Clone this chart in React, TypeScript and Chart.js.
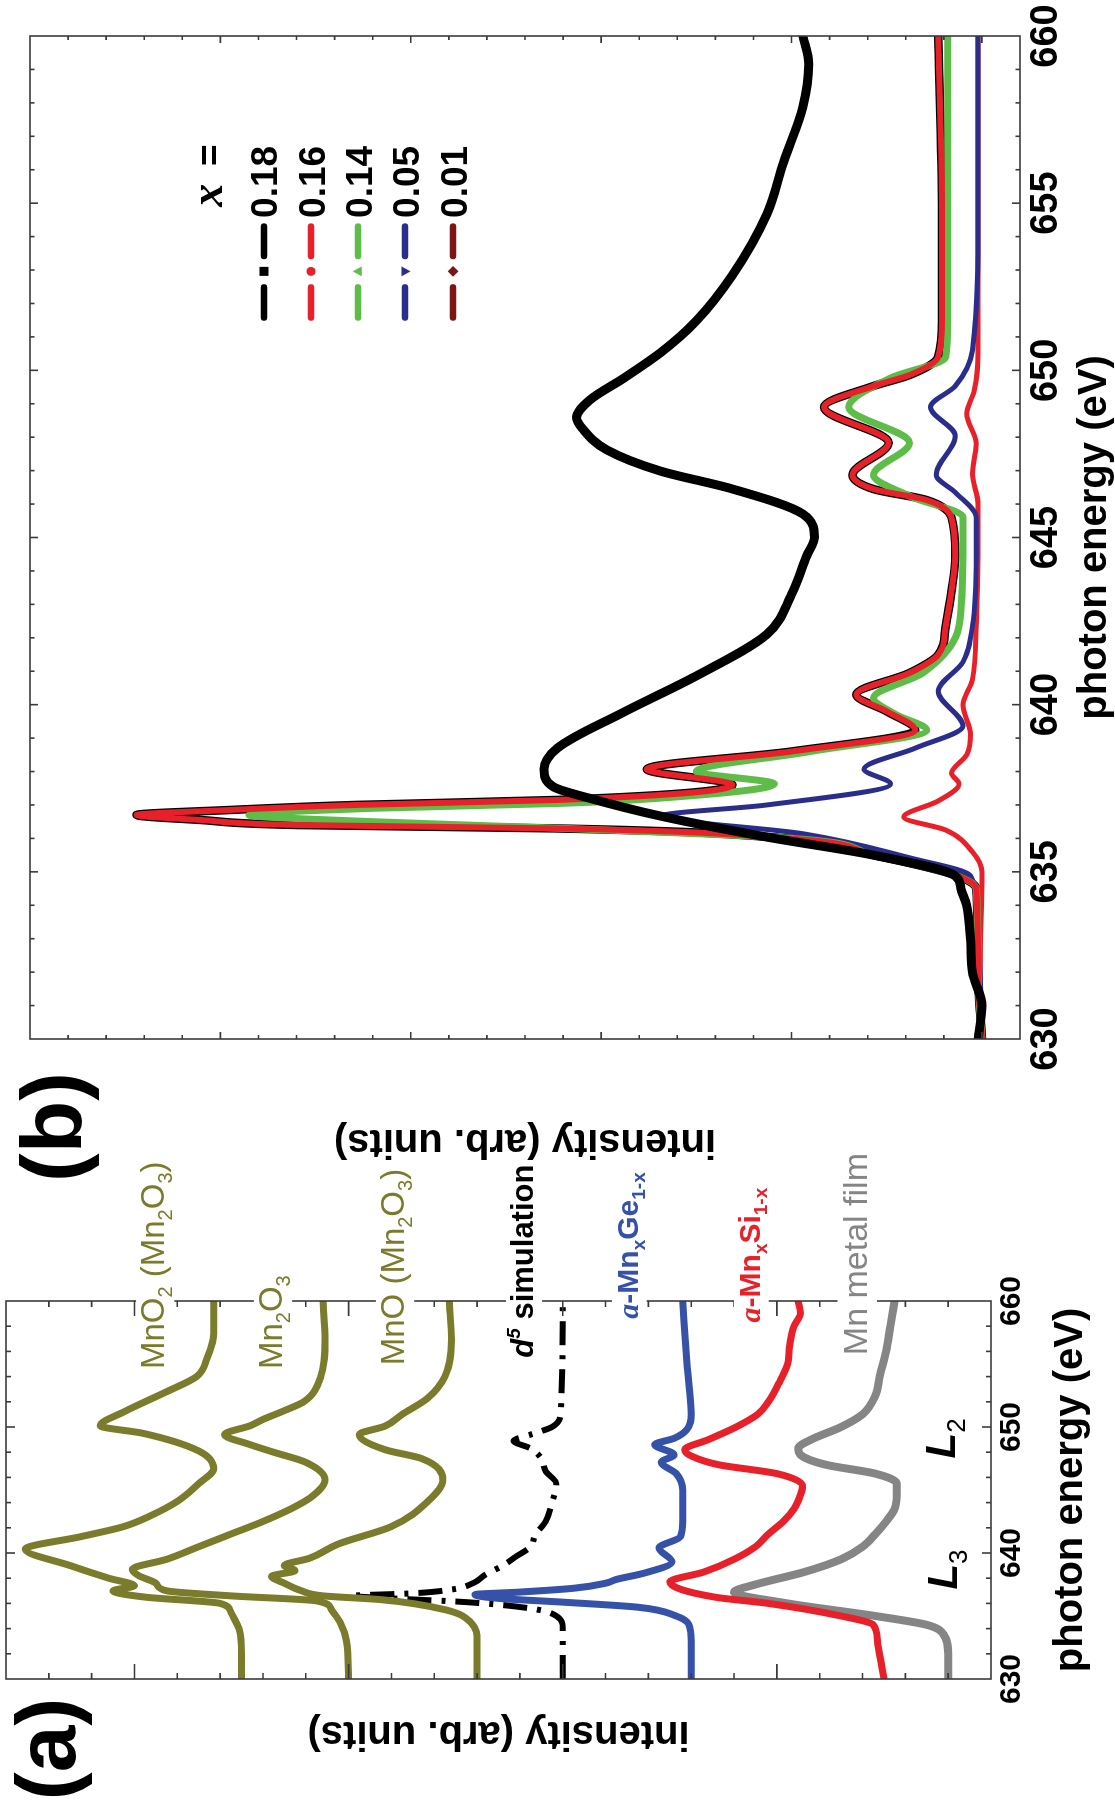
import React, { useEffect, useRef } from 'react';
import { Chart, registerables } from 'chart.js';
Chart.register(...registerables);

const FONT = "'Liberation Sans', Arial, Helvetica, sans-serif";
const SERIF = "'Liberation Serif', 'Times New Roman', serif";
Chart.defaults.font.family = FONT;

// ---------- axes ----------
const A_X_MIN = 630, A_X_MAX = 660, A_X_STEP = 2;
const A_X_TICK_LABELS = [630, 640, 650, 660];
const A_Y_MIN = 0, A_Y_MAX = 4.6, A_Y_STEP = 0.2;
const B_X_MIN = 630, B_X_MAX = 660, B_X_STEP = 1;
const B_X_TICK_LABELS = [630, 635, 640, 645, 650, 655, 660];
const B_Y_MIN = -0.2, B_Y_MAX = 5, B_Y_STEP = 0.2;

// ---------- panel (a) data: photon energy (eV) / intensity (arb. units, offset) ----------
const A_MNO2_E = [630, 632, 633.9, 635.3, 636.0, 636.5, 637.0, 637.4, 638.0, 639.0, 640.3, 641.3, 642.1, 643.0, 644.1, 645.5, 646.7, 648.1, 649.5, 650.1, 651.2, 652.8, 654.0, 655.5, 657.4, 660];
const A_MNO2_I = [3.50, 3.50, 3.51, 3.55, 3.60, 3.95, 4.10, 4.00, 4.12, 4.30, 4.51, 4.25, 4.05, 3.92, 3.80, 3.70, 3.63, 3.70, 3.96, 4.16, 4.05, 3.85, 3.71, 3.66, 3.63, 3.63];
const A_MN2O3_E = [630, 633, 634.5, 635.5, 636.2, 636.6, 637.0, 637.6, 638.2, 638.7, 639.5, 640.5, 641.5, 642.5, 643.5, 644.5, 645.8, 647.2, 648.0, 648.6, 649.4, 650.1, 650.6, 651.3, 652.0, 654.0, 656.9, 660];
const A_MN2O3_I = [3.00, 3.01, 3.04, 3.08, 3.15, 3.55, 3.85, 3.90, 3.98, 4.01, 3.85, 3.70, 3.55, 3.40, 3.27, 3.17, 3.11, 3.20, 3.35, 3.46, 3.58, 3.46, 3.40, 3.30, 3.21, 3.13, 3.11, 3.12];
const A_MNO_E = [630, 633, 634.5, 635.5, 636.3, 636.6, 637.0, 637.6, 638.15, 638.6, 639.0, 639.6, 640.7, 642.1, 644.1, 645.8, 647.5, 648.2, 649.4, 650.07, 651.0, 652.3, 654.0, 656.9, 660];
const A_MNO_I = [2.40, 2.40, 2.43, 2.55, 2.85, 3.12, 3.22, 3.30, 3.36, 3.25, 3.30, 3.18, 3.05, 2.80, 2.63, 2.56, 2.66, 2.83, 2.95, 2.83, 2.75, 2.63, 2.55, 2.52, 2.53];
const A_D5_E = [630, 634, 635, 635.6, 636.1, 636.4, 636.6, 636.8, 637.1, 637.6, 638.3, 639.0, 639.7, 640.5, 641.4, 642.5, 644, 645.5, 646.5, 647.5, 648.3, 648.9, 649.4, 650, 651, 660];
const A_D5_I = [2.0, 2.0, 2.03, 2.15, 2.45, 2.8, 2.98, 2.7, 2.52, 2.42, 2.36, 2.28, 2.22, 2.15, 2.13, 2.08, 2.05, 2.03, 2.08, 2.10, 2.15, 2.23, 2.15, 2.05, 2.01, 2.0];
const A_GE_E = [630, 633, 634.3, 635.0, 635.7, 636.1, 636.4, 636.7, 636.9, 637.2, 637.6, 637.9, 638.4, 639.3, 640.4, 641.3, 642.5, 645, 646.3, 647.2, 647.8, 648.6, 649.1, 649.8, 651, 655, 660];
const A_GE_I = [1.40, 1.40, 1.41, 1.47, 1.65, 2.0, 2.3, 2.41, 2.2, 1.95, 1.80, 1.75, 1.62, 1.49, 1.55, 1.45, 1.44, 1.44, 1.47, 1.54, 1.48, 1.57, 1.48, 1.42, 1.40, 1.42, 1.44];
const A_SI_E = [630, 631, 633, 634.3, 635, 636, 636.5, 637.7, 638.5, 639.5, 640.5, 641.5, 642.5, 643.5, 644.6, 645.3, 646.3, 647, 647.7, 648.2, 649, 650, 651, 652, 653.5, 655, 656.5, 658, 659, 660];
const A_SI_I = [0.50, 0.51, 0.53, 0.55, 0.70, 1.04, 1.29, 1.50, 1.34, 1.20, 1.10, 1.04, 0.97, 0.92, 0.89, 0.88, 1.00, 1.27, 1.40, 1.43, 1.32, 1.19, 1.09, 1.04, 0.99, 0.95, 0.94, 0.92, 0.89, 0.90];
const A_MN_E = [630, 632, 633.5, 634.3, 635, 636, 636.9, 637.5, 638.5, 639.5, 640.5, 641.5, 642.5, 643.5, 644.6, 645.5, 646.3, 647, 647.8, 648.3, 649, 650, 651, 652.5, 654, 656, 658, 660];
const A_MN_I = [0.20, 0.20, 0.22, 0.30, 0.54, 0.95, 1.20, 1.10, 0.87, 0.70, 0.60, 0.54, 0.49, 0.45, 0.44, 0.44, 0.54, 0.77, 0.89, 0.90, 0.84, 0.70, 0.60, 0.54, 0.52, 0.49, 0.47, 0.45];

// ---------- panel (b) data: a-MnxGe1-x, x = ... ----------
const B_X018_E = [630, 631, 632, 633, 634, 634.5, 634.88, 635.5, 636.04, 636.67, 637.2, 637.54, 638.07, 638.7, 639.78, 640.86, 642.1, 643.3, 644.45, 645.0, 645.7, 646.45, 646.99, 647.62, 648.27, 648.58, 649.11, 649.77, 650.52, 651.48, 652.85, 654.67, 656.26, 657.88, 659.16, 660];
const B_X018_I = [0.02, 0.0, 0.05, 0.06, 0.08, 0.11, 0.14, 0.57, 1.13, 1.69, 2.06, 2.25, 2.30, 2.23, 1.88, 1.50, 1.13, 1.0, 0.92, 0.88, 0.94, 1.31, 1.69, 1.97, 2.10, 2.13, 2.06, 1.88, 1.69, 1.50, 1.31, 1.13, 1.04, 0.94, 0.91, 0.94];
const B_X016_E = [630, 632, 634.5, 634.9, 635.5, 636.0, 636.3, 636.4, 636.55, 636.7, 636.85, 637.0, 637.15, 637.6, 638.07, 638.6, 639.24, 639.8, 640.3, 640.95, 641.49, 642.35, 643.4, 644.45, 645.6, 646.12, 646.45, 646.87, 647.83, 648.9, 649.53, 649.86, 650.4, 651.48, 654.67, 660];
const B_X016_I = [0.0, 0.02, 0.03, 0.14, 0.57, 1.02, 2.25, 3.59, 4.1, 4.44, 3.95, 3.29, 2.23, 1.31, 1.76, 1.0, 0.35, 0.5, 0.66, 0.38, 0.23, 0.19, 0.16, 0.14, 0.16, 0.29, 0.57, 0.68, 0.49, 0.83, 0.57, 0.38, 0.23, 0.21, 0.21, 0.23];
const B_X014_E = [630, 632, 634.5, 634.9, 635.5, 636.0, 636.3, 636.5, 636.7, 636.9, 637.05, 637.2, 637.63, 638.0, 638.6, 639.24, 639.7, 640.2, 640.95, 642.35, 644.45, 645.6, 646.24, 646.87, 647.83, 648.9, 649.77, 650.4, 651.48, 660];
const B_X014_I = [0.0, 0.02, 0.03, 0.14, 0.57, 1.0, 2.2, 3.2, 3.85, 3.2, 2.2, 1.7, 1.09, 1.50, 0.9, 0.29, 0.45, 0.57, 0.31, 0.12, 0.10, 0.10, 0.38, 0.57, 0.38, 0.70, 0.48, 0.19, 0.18, 0.18];
const B_X005_E = [630, 632, 634.0, 634.88, 635.42, 636.14, 636.67, 637.0, 637.63, 638.07, 638.7, 639.36, 640.4, 641.27, 642.35, 644.5, 645.6, 646.35, 646.87, 648.04, 648.9, 649.53, 650.6, 655, 660];
const B_X005_I = [0.0, 0.01, 0.03, 0.06, 0.38, 0.94, 1.68, 1.13, 0.48, 0.62, 0.35, 0.10, 0.23, 0.10, 0.05, 0.03, 0.03, 0.14, 0.24, 0.14, 0.27, 0.14, 0.05, 0.02, 0.02];
const B_X001_E = [630, 632, 635.0, 635.6, 636.25, 636.64, 637.12, 637.63, 637.95, 638.5, 639.12, 639.99, 640.74, 642.35, 646.0, 646.9, 647.8, 648.7, 649.4, 650.5, 660];
const B_X001_I = [0.0, 0.01, 0.0, 0.05, 0.19, 0.41, 0.23, 0.12, 0.16, 0.08, 0.06, 0.10, 0.05, 0.03, 0.02, 0.05, 0.03, 0.08, 0.04, 0.02, 0.02];

// ---------- styles ----------
const OLIVE = '#7b7b2c';
const A_BLUE = '#3552a8';
const A_RED = '#e8202a';
const A_GRAY = '#858585';
const B_RED = '#e8202a';
const B_GREEN = '#5ebd48';
const B_BLUE = '#2a2d8c';
const B_MAROON = '#7d1416';

const A_SERIES = [
  { label: 'MnO2 (Mn2O3)', e: A_MNO2_E, i: A_MNO2_I, color: OLIVE, width: 7 },
  { label: 'Mn2O3', e: A_MN2O3_E, i: A_MN2O3_I, color: OLIVE, width: 7 },
  { label: 'MnO (Mn2O3)', e: A_MNO_E, i: A_MNO_I, color: OLIVE, width: 7 },
  { label: 'd5 simulation', e: A_D5_E, i: A_D5_I, color: '#000000', width: 6, dash: [24, 10, 4, 10] },
  { label: 'a-MnxGe1-x', e: A_GE_E, i: A_GE_I, color: A_BLUE, width: 7 },
  { label: 'a-MnxSi1-x', e: A_SI_E, i: A_SI_I, color: A_RED, width: 7 },
  { label: 'Mn metal film', e: A_MN_E, i: A_MN_I, color: A_GRAY, width: 8 },
];

const B_SERIES = [
  { label: '0.18', e: B_X018_E, i: B_X018_I, color: '#000000', width: 9, marker: 'rect' },
  { label: '0.16', e: B_X016_E, i: B_X016_I, color: B_RED, width: 6, marker: 'circle' },
  { label: '0.14', e: B_X014_E, i: B_X014_I, color: B_GREEN, width: 7, marker: 'triUp' },
  { label: '0.05', e: B_X005_E, i: B_X005_I, color: B_BLUE, width: 5, marker: 'triDown' },
  { label: '0.01', e: B_X001_E, i: B_X001_I, color: B_RED, width: 5, marker: 'diamond', legendColor: B_MAROON },
];

// annotation placement (data coordinates of panel a)
const A_LABELS = [
  { e: 654.6, v: 3.86, color: OLIVE, size: 33, weight: 'normal', bg: true, segs: [{ t: 'MnO' }, { t: '2', s: 'sub' }, { t: ' (Mn' }, { t: '2', s: 'sub' }, { t: 'O' }, { t: '3', s: 'sub' }, { t: ')' }] },
  { e: 654.6, v: 3.31, color: OLIVE, size: 33, weight: 'normal', bg: true, segs: [{ t: 'Mn' }, { t: '2', s: 'sub' }, { t: 'O' }, { t: '3', s: 'sub' }] },
  { e: 654.9, v: 2.74, color: OLIVE, size: 33, weight: 'normal', bg: true, segs: [{ t: 'MnO (Mn' }, { t: '2', s: 'sub' }, { t: 'O' }, { t: '3', s: 'sub' }, { t: ')' }] },
  { e: 655.5, v: 2.14, color: '#000000', size: 31, weight: 'bold', bg: true, segs: [{ t: 'd', it: true }, { t: '5', s: 'sup', it: true }, { t: ' simulation' }] },
  { e: 658.6, v: 1.65, color: A_BLUE, size: 30, weight: 'bold', bg: true, segs: [{ t: 'a', it: true, serif: true }, { t: '-Mn' }, { t: 'x', s: 'sub' }, { t: 'Ge' }, { t: '1-x', s: 'sub' }] },
  { e: 658.3, v: 1.08, color: A_RED, size: 30, weight: 'bold', bg: true, segs: [{ t: 'a', it: true, serif: true }, { t: '-Mn' }, { t: 'x', s: 'sub' }, { t: 'Si' }, { t: '1-x', s: 'sub' }] },
  { e: 655.7, v: 0.58, color: A_GRAY, size: 34, weight: 'normal', bg: true, segs: [{ t: 'Mn metal film' }] },
  { e: 637.1, v: 0.16, color: '#000000', size: 42, weight: 'bold', bg: false, segs: [{ t: 'L', it: true }, { t: '3', s: 'sub', w: 'normal' }] },
  { e: 647.5, v: 0.17, color: '#000000', size: 42, weight: 'bold', bg: false, segs: [{ t: 'L', it: true }, { t: '2', s: 'sub', w: 'normal' }] },
];

// legend placement (data coordinates of panel b)
const B_LEGEND = { headerE: 654.89, eqE: 656.11, headerV: 3.99, seg1: [651.58, 652.48], markE: 652.96, seg2: [653.42, 654.3], textE: 654.56, rowsV: [3.771, 3.524, 3.277, 3.03, 2.778] };

function zip(e: number[], v: number[]) {
  return e.map((x, k) => ({ x, y: v[k] }));
}

function drawRich(ctx: any, x: number, y: number, segs: any[], size: number, weight: string, color: string, bg: boolean) {
  const parts = segs.map((s) => {
    const small = s.s === 'sub' || s.s === 'sup';
    const sz = small ? Math.round(size * 0.62) : size;
    const fam = s.serif ? SERIF : FONT;
    const f = `${s.it ? 'italic ' : ''}${s.w || weight} ${sz}px ${fam}`;
    ctx.font = f;
    const w = ctx.measureText(s.t).width;
    const dy = s.s === 'sub' ? size * 0.24 : s.s === 'sup' ? -size * 0.42 : 0;
    return { t: s.t, f, w, dy };
  });
  const total = parts.reduce((a: number, p: any) => a + p.w, 0);
  if (bg) {
    ctx.fillStyle = '#ffffff';
    ctx.fillRect(x - 5, y - size * 0.86, total + 10, size * 1.16);
  }
  ctx.fillStyle = color;
  ctx.textAlign = 'left';
  ctx.textBaseline = 'alphabetic';
  let cx = x;
  for (const p of parts) {
    ctx.font = p.f;
    ctx.fillText(p.t, cx, y + p.dy);
    cx += p.w;
  }
}

function drawMarker(ctx: any, kind: string, x: number, y: number, r: number, color: string) {
  ctx.fillStyle = color;
  ctx.beginPath();
  if (kind === 'rect') ctx.rect(x - r, y - r, 2 * r, 2 * r);
  else if (kind === 'circle') ctx.arc(x, y, r, 0, Math.PI * 2);
  else if (kind === 'triUp') { ctx.moveTo(x, y - r * 1.2); ctx.lineTo(x + r * 1.1, y + r * 0.8); ctx.lineTo(x - r * 1.1, y + r * 0.8); ctx.closePath(); }
  else if (kind === 'triDown') { ctx.moveTo(x, y + r * 1.2); ctx.lineTo(x + r * 1.1, y - r * 0.8); ctx.lineTo(x - r * 1.1, y - r * 0.8); ctx.closePath(); }
  else { ctx.moveTo(x, y - r * 1.2); ctx.lineTo(x + r * 1.2, y); ctx.lineTo(x, y + r * 1.2); ctx.lineTo(x - r * 1.2, y); ctx.closePath(); }
  ctx.fill();
}

const isInt = (v: number) => Math.abs(v - Math.round(v)) < 1e-6;

function framePlugin(cfg: any) {
  return {
    id: 'frame' + cfg.id,
    afterDatasetsDraw(chart: any) {
      const { ctx, chartArea: ca, scales } = chart;
      const xs = scales.x, ys = scales.y;
      ctx.save();
      ctx.strokeStyle = '#3a3a3a';
      ctx.lineWidth = 1.6;
      ctx.beginPath();
      for (const t of xs.ticks) {
        const p = xs.getPixelForValue(t.value);
        if (p < ca.left + 1 || p > ca.right - 1) continue;
        const L = cfg.xMajor(t.value) ? cfg.xMajorLen : cfg.xMinorLen;
        ctx.moveTo(p, ca.bottom); ctx.lineTo(p, ca.bottom - L);
        ctx.moveTo(p, ca.top); ctx.lineTo(p, ca.top + L);
      }
      for (const t of ys.ticks) {
        const p = ys.getPixelForValue(t.value);
        if (p < ca.top + 1 || p > ca.bottom - 1) continue;
        const L = cfg.yMajor(t.value) ? cfg.yMajorLen : cfg.yMinorLen;
        ctx.moveTo(ca.left, p); ctx.lineTo(ca.left + L, p);
        ctx.moveTo(ca.right, p); ctx.lineTo(ca.right - L, p);
      }
      ctx.stroke();
      ctx.strokeRect(ca.left, ca.top, ca.right - ca.left, ca.bottom - ca.top);
      ctx.restore();
    },
    afterDraw(chart: any) {
      if (cfg.extra) cfg.extra(chart);
    },
  };
}

function drawPanelA(chart: any) {
  const { ctx, scales: { x: xs, y: ys } } = chart;
  ctx.save();
  for (const l of A_LABELS) {
    drawRich(ctx, xs.getPixelForValue(l.e), ys.getPixelForValue(l.v), l.segs, l.size, l.weight, l.color, l.bg);
  }
  ctx.fillStyle = '#000';
  ctx.font = `bold 84px ${FONT}`;
  ctx.textAlign = 'center';
  ctx.textBaseline = 'middle';
  ctx.fillText('(a)', 62, 52);
  ctx.restore();
}

function drawPanelB(chart: any) {
  const { ctx, scales: { x: xs, y: ys } } = chart;
  const L = B_LEGEND;
  ctx.save();
  ctx.fillStyle = '#000';
  ctx.font = `bold 86px ${FONT}`;
  ctx.textAlign = 'center';
  ctx.textBaseline = 'middle';
  ctx.fillText('(b)', 84, 57);

  ctx.textAlign = 'left';
  ctx.textBaseline = 'alphabetic';
  const hy = ys.getPixelForValue(L.headerV);
  ctx.font = `italic bold 46px ${SERIF}`;
  ctx.fillText('x', xs.getPixelForValue(L.headerE), hy);
  ctx.font = `bold 37px ${FONT}`;
  ctx.fillText('=', xs.getPixelForValue(L.eqE), hy);

  B_SERIES.forEach((s: any, k: number) => {
    const y = ys.getPixelForValue(L.rowsV[k]);
    const c = s.legendColor || s.color;
    ctx.strokeStyle = c;
    ctx.lineWidth = 6.5;
    ctx.lineCap = 'round';
    ctx.beginPath();
    ctx.moveTo(xs.getPixelForValue(L.seg1[0]), y); ctx.lineTo(xs.getPixelForValue(L.seg1[1]), y);
    ctx.moveTo(xs.getPixelForValue(L.seg2[0]), y); ctx.lineTo(xs.getPixelForValue(L.seg2[1]), y);
    ctx.stroke();
    drawMarker(ctx, s.marker, xs.getPixelForValue(L.markE), y, 4.5, c);
    ctx.fillStyle = '#000';
    ctx.font = `bold 37px ${FONT}`;
    ctx.fillText(s.label, xs.getPixelForValue(L.textE), y + 13.5);
  });
  ctx.restore();
}

function lineDs(s: any) {
  return {
    label: s.label,
    data: zip(s.e, s.i),
    borderColor: s.color,
    backgroundColor: s.color,
    borderWidth: s.width,
    borderDash: s.dash || [],
    borderCapStyle: s.dash ? 'butt' : 'round',
    borderJoinStyle: 'round',
    pointRadius: 0,
    pointHoverRadius: 0,
    fill: false,
    cubicInterpolationMode: 'monotone',
  };
}

function makeConfigA(): any {
  return {
    type: 'line',
    data: { datasets: A_SERIES.map(lineDs) },
    options: {
      responsive: false,
      animation: false,
      events: [],
      layout: { padding: { left: 0, top: 6, right: 250, bottom: 0 } },
      plugins: { legend: { display: false }, tooltip: { enabled: false } },
      scales: {
        x: {
          type: 'linear', position: 'bottom', min: A_X_MIN, max: A_X_MAX,
          ticks: {
            stepSize: A_X_STEP, autoSkip: false, maxRotation: 0, minRotation: 0, padding: 3, color: '#000',
            font: { size: 30, weight: 'bold' },
            callback: (v: number) => (A_X_TICK_LABELS.includes(v) ? String(v) : ''),
          },
          grid: { display: false, drawTicks: false },
          border: { display: false },
          title: { display: true, text: 'photon energy (eV)', color: '#000', font: { size: 40, weight: 'bold', lineHeight: 1 }, padding: { top: 0, bottom: 24 } },
          afterFit: (s: any) => { s.height = 124; },
        },
        y: {
          type: 'linear', position: 'left', min: A_Y_MIN, max: A_Y_MAX,
          ticks: { display: false, stepSize: A_Y_STEP },
          grid: { display: false, drawTicks: false },
          border: { display: false },
          title: { display: true, text: 'intensity (arb. units)', color: '#000', font: { size: 40, weight: 'bold', lineHeight: 1 }, padding: { top: 58, bottom: 0 } },
          afterFit: (s: any) => { s.width = 132; },
        },
      },
    },
    plugins: [framePlugin({ id: 'a', xMajor: (v: number) => v % 10 === 0, yMajor: isInt, xMajorLen: 9, xMinorLen: 5, yMajorLen: 15, yMinorLen: 6, extra: drawPanelA })],
  };
}

function makeConfigB(): any {
  const ds: any[] = B_SERIES.map(lineDs);
  const outline: any = lineDs({ ...B_SERIES[1], color: '#000000', width: 8.5 });
  outline.label = '';
  ds.push(outline);
  return {
    type: 'line',
    data: { datasets: ds },
    options: {
      responsive: false,
      animation: false,
      events: [],
      layout: { padding: { left: 0, top: 30, right: 36, bottom: 0 } },
      plugins: { legend: { display: false }, tooltip: { enabled: false } },
      scales: {
        x: {
          type: 'linear', position: 'bottom', min: B_X_MIN, max: B_X_MAX,
          ticks: {
            stepSize: B_X_STEP, autoSkip: false, maxRotation: 0, minRotation: 0, padding: 4, color: '#000',
            font: { size: 38, weight: 'bold' },
            callback: (v: number) => (B_X_TICK_LABELS.includes(v) ? String(v) : ''),
          },
          grid: { display: false, drawTicks: false },
          border: { display: false },
          title: { display: true, text: 'photon energy (eV)', color: '#000', font: { size: 40, weight: 'bold', lineHeight: 1 }, padding: { top: 0, bottom: 0 } },
          afterFit: (s: any) => { s.height = 95; },
        },
        y: {
          type: 'linear', position: 'left', min: B_Y_MIN, max: B_Y_MAX,
          ticks: { display: false, stepSize: B_Y_STEP },
          grid: { display: false, drawTicks: false },
          border: { display: false },
          title: { display: true, text: 'intensity (arb. units)', color: '#000', font: { size: 40, weight: 'bold', lineHeight: 1 }, padding: { top: 50, bottom: 0 } },
          afterFit: (s: any) => { s.width = 172; },
        },
      },
    },
    plugins: [framePlugin({ id: 'b', xMajor: (v: number) => v % 5 === 0, yMajor: isInt, xMajorLen: 8, xMinorLen: 4.5, yMajorLen: 7, yMinorLen: 4, extra: drawPanelB })],
  };
}

export default function App() {
  const refA = useRef<HTMLCanvasElement>(null);
  const refB = useRef<HTMLCanvasElement>(null);
  useEffect(() => {
    const ca = new Chart(refA.current as HTMLCanvasElement, makeConfigA());
    const cb = new Chart(refB.current as HTMLCanvasElement, makeConfigB());
    return () => { ca.destroy(); cb.destroy(); };
  }, []);
  return (
    <div style={{ position: 'fixed', left: 0, top: 0, width: 1115, height: 1811, background: '#ffffff', overflow: 'hidden' }}>
      <div style={{ position: 'absolute', left: 0, top: 0, width: 1811, height: 1115, transformOrigin: '0 0', transform: 'translateY(1811px) rotate(-90deg)' }}>
        <canvas ref={refA} width={760} height={1115} style={{ position: 'absolute', left: 0, top: 0, width: 760, height: 1115, display: 'block' }} />
        <canvas ref={refB} width={1211} height={1115} style={{ position: 'absolute', left: 600, top: 0, width: 1211, height: 1115, display: 'block' }} />
      </div>
    </div>
  );
}
